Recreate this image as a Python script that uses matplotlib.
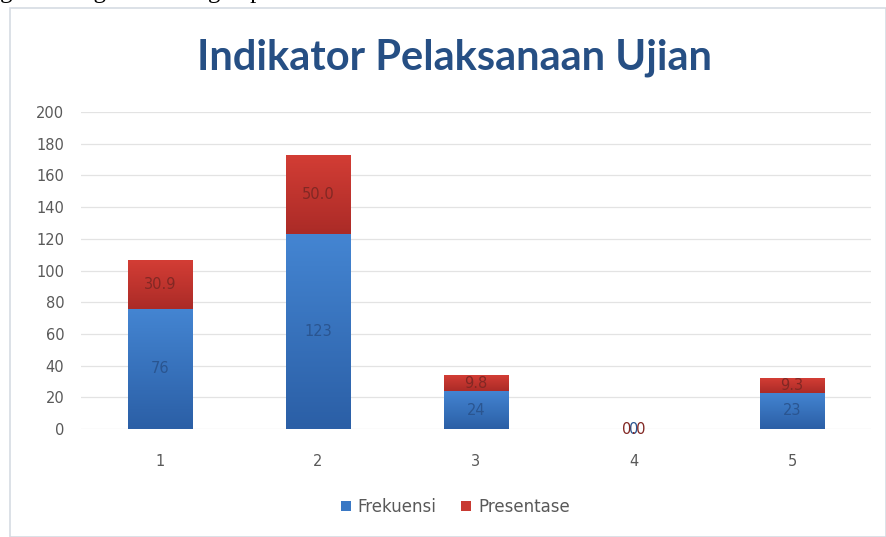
import matplotlib.pyplot as plt
import numpy as np
from matplotlib.colors import LinearSegmentedColormap

categories = ['1', '2', '3', '4', '5']
frekuensi = [76, 123, 24, 0, 23]
presentase = [30.9, 50.0, 9.8, 0.0, 9.3]
freq_labels = ['76', '123', '24', '0', '23']
pres_labels = ['30.9', '50.0', '9.8', '0.0', '9.3']

blue_cmap = LinearSegmentedColormap.from_list('b', ['#2b5fa6', '#4485d2'])
red_cmap = LinearSegmentedColormap.from_list('r', ['#ab2b27', '#d33d35'])

fig = plt.figure(figsize=(8.86, 5.37), dpi=100)

# chart frame (screenshot of an Excel chart inside a document)
frame = plt.Rectangle((0.011, 0.0), 0.989, 0.985, transform=fig.transFigure,
                      fill=False, edgecolor='#d6dbe3', linewidth=1.2)
fig.add_artist(frame)
# cut-off line of document text above the chart
fig.text(0.0, 1.014, 'ga: kurang baik" dengan persentase 9.3%.', family='Liberation Serif',
         fontsize=18, ha='left', va='center', color='black')

ax = fig.add_axes([0.0914, 0.201, 0.8916, 0.5904])
x = np.arange(len(categories))
w = 0.41
b1 = ax.bar(x, frekuensi, w, color='#3a78c4', label='Frekuensi', zorder=3)
b2 = ax.bar(x, presentase, w, bottom=frekuensi, color='#c83a32', label='Presentase', zorder=3)

# excel-like vertical gradient fill
grad = np.linspace(0, 1, 100).reshape(-1, 1)
for bars, cmap in ((b1, blue_cmap), (b2, red_cmap)):
    for p in bars:
        x0, y0 = p.get_x(), p.get_y()
        if p.get_height() <= 0:
            continue
        im = ax.imshow(grad, cmap=cmap, origin='lower', aspect='auto', zorder=3.5,
                       extent=(x0, x0 + p.get_width(), y0, y0 + p.get_height()))
        im.set_clip_path(p)

for i in range(len(x)):
    ax.text(x[i], frekuensi[i] / 2, freq_labels[i], ha='center', va='center',
            fontsize=10.5, color='#2a5590', zorder=4)
    ax.text(x[i], frekuensi[i] + presentase[i] / 2, pres_labels[i], ha='center', va='center',
            fontsize=10.5, color='#822824', zorder=4)

ax.set_ylim(0, 200)
ax.set_xlim(-0.5, 4.5)
ax.set_yticks(range(0, 201, 20))
ax.set_xticks(x)
ax.set_xticklabels(categories)
ax.tick_params(length=0, labelsize=10.5, labelcolor='#595959')
ax.tick_params(axis='x', pad=18)
ax.tick_params(axis='y', pad=12)
ax.grid(axis='y', color='#e3e3e3', linewidth=0.9, zorder=0)
for s in ax.spines.values():
    s.set_visible(False)

fig.text(0.513, 0.892, 'Indikator Pelaksanaan Ujian', ha='center', va='center',
         fontsize=30, fontweight='bold', color='#264f84', family='Lato')

ax.legend(loc='center', bbox_to_anchor=(0.474, -0.246), ncol=2, frameon=False,
          fontsize=12, labelcolor='#595959', handlelength=0.6, handleheight=0.6,
          columnspacing=1.5, handletextpad=0.4)

fig.savefig('out.png', dpi=100)
